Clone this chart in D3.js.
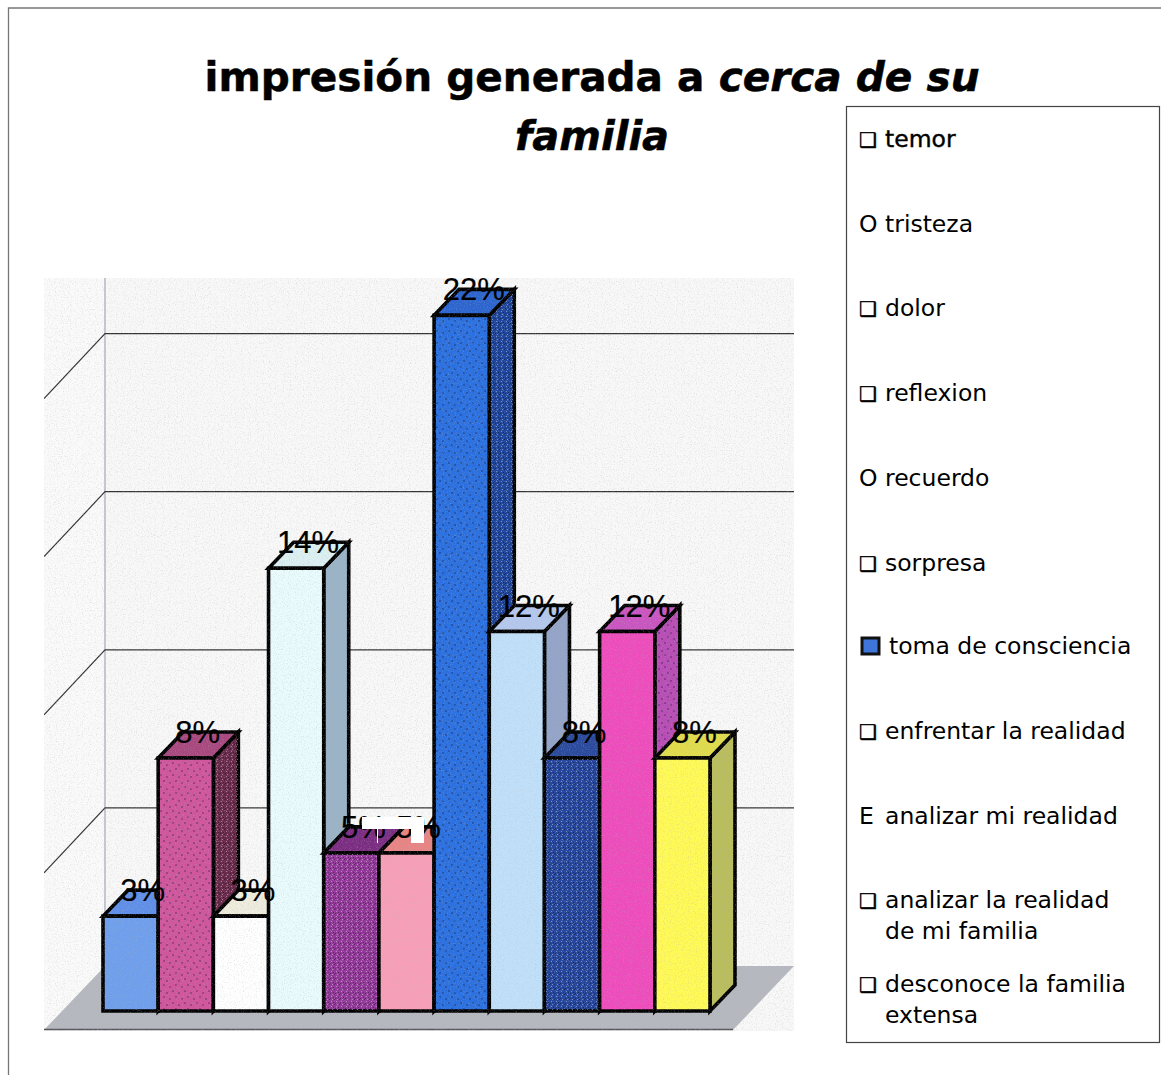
<!DOCTYPE html>
<html><head><meta charset="utf-8">
<script src="https://cdnjs.cloudflare.com/ajax/libs/d3/7.8.5/d3.min.js"></script>
<style>html,body{margin:0;padding:0;background:#fff}svg{display:block}</style>
</head><body><div id="c"></div>
<script>
const categories = ["temor","tristeza","dolor","reflexion","recuerdo","sorpresa","toma de consciencia","enfrentar la realidad","analizar mi realidad","analizar la realidad de mi familia","desconoce la familia extensa"];
const values = [3,8,3,14,5,5,22,12,8,12,8];
const gridTicks = [5,10,15,20];
const frontColors = ["#6f9fec","#cf559c","#ffffff","#e9fbfc","#93389a","#f89fb8","#2a70e0","#c0e0fa","#25469f","#ee4cbc","#fffa55"];
const topColors = ["#5f8fe8","#a8487f","#eeeddd","#dcf0f2","#7b2d82","#e88484","#2c64d0","#b4c8ee","#2a4a9e","#c955c0","#e0dc4c"];
const sideColors = ["#4f79bd","#6c2a4c","#cfcfc4","#9ab3c6","#5f2468","#c67d90","#1f469f","#93a4c8","#1c3578","#b84db6","#babd5c"];
const frontPattern = ["","dots","","","speck","","dots","","speck","",""];
const sidePattern = ["","speck","","","speck","","speck","","speck","dots",""];
const legendLines = [
 {mark:"❑",t:["temor"],bold:true},{mark:"O",t:["tristeza"]},{mark:"❑",t:["dolor"]},{mark:"❑",t:["reflexion"]},
 {mark:"O",t:["recuerdo"]},{mark:"❑",t:["sorpresa"]},{mark:"box",t:["toma de consciencia"]},{mark:"❑",t:["enfrentar la realidad"]},
 {mark:"E",t:["analizar mi realidad"]},{mark:"❑",t:["analizar la realidad","de mi familia"]},{mark:"❑",t:["desconoce la familia","extensa"]}];
const legendBaselines = [147,232,316,401,486,571,654,739,824,908,992];

const W=1161,H=1075;
const svg=d3.select("#c").append("svg").attr("width",W).attr("height",H).attr("viewBox",[0,0,W,H]);
const defs=svg.append("defs");
defs.append("clipPath").attr("id","plot").append("rect").attr("x",44).attr("y",278).attr("width",750).attr("height",753);
const dots=defs.append("pattern").attr("id","dots").attr("width",12).attr("height",12).attr("patternUnits","userSpaceOnUse");
[[2,3],[8,1],[5,7],[11,9]].forEach(p=>dots.append("circle").attr("cx",p[0]).attr("cy",p[1]).attr("r",.8).attr("fill","#1a1030").attr("opacity",.65));
const speck=defs.append("pattern").attr("id","speck").attr("width",5).attr("height",5).attr("patternUnits","userSpaceOnUse");
[[1,1,"#fff"],[3,2,"#000"],[2,4,"#fff"],[4,4,"#000"],[0,3,"#000"]].forEach(p=>speck.append("rect").attr("x",p[0]).attr("y",p[1]).attr("width",1).attr("height",1).attr("fill",p[2]).attr("opacity",.38));
const nf=defs.append("filter").attr("id","noise").attr("x",0).attr("y",0).attr("width","100%").attr("height","100%");
nf.append("feTurbulence").attr("type","fractalNoise").attr("baseFrequency",.85).attr("numOctaves",2).attr("seed",4);
nf.append("feColorMatrix").attr("values","0 0 0 0 0.45  0 0 0 0 0.45  0 0 0 0 0.47  2.6 0 0 0 -1.3");

// page frame
svg.append("path").attr("d",`M8.5,${H}V8H${W}`).attr("fill","none").attr("stroke","#777").attr("stroke-width",1.3);

// title
const title=svg.append("g").attr("font-family","'DejaVu Sans'").attr("font-weight","bold").attr("font-size",40.6).attr("fill","#000").attr("stroke","#000").attr("stroke-width",.5).attr("text-anchor","middle");
const t1=title.append("text").attr("x",592).attr("y",90.5);
t1.append("tspan").text("impresión generada a ");
t1.append("tspan").attr("font-style","italic").text("cerca de su");
title.append("text").attr("x",592).attr("y",149.5).attr("font-size",40).attr("font-style","italic").text("familia");

// scales
const x=d3.scaleBand().domain(categories).range([103,710]).padding(0);
const y=d3.scaleLinear().domain([0,25]).range([1011,1011-790.5]);
const dx=25,dy=26, backX=105, backDrop=45;
const backY=v=>y(v)-backDrop;

const plot=svg.append("g").attr("clip-path","url(#plot)");
plot.append("rect").attr("x",44).attr("y",278).attr("width",750).attr("height",753).attr("fill","#f8f8f8");
// left wall
plot.append("path").attr("d",`M44,278H${backX}V${backY(0)}L44,1030Z`).attr("fill","#fafafa");
plot.append("line").attr("x1",backX).attr("x2",backX).attr("y1",278).attr("y2",backY(0)).attr("stroke","#c6c7d3").attr("stroke-width",2);
// floor
plot.append("path").attr("d",`M44,1030H733L794,${backY(0)}H${backX}Z`).attr("fill","#b6b8bf");
plot.append("line").attr("x1",44).attr("x2",733).attr("y1",1029.5).attr("y2",1029.5).attr("stroke","#55565c").attr("stroke-width",1.5);
// grid
const grid=plot.append("g").attr("stroke","#333").attr("stroke-width",1.2).attr("fill","none");
grid.selectAll("path").data(gridTicks).join("path").attr("d",v=>`M44,${backY(v)+65}L${backX},${backY(v)}H794`);

// bars
const bw=x.bandwidth();
const bars=plot.append("g").attr("stroke","#000").attr("stroke-width",3.6).attr("stroke-linejoin","miter");
const g=bars.selectAll("g").data(categories.map((c,i)=>({c,i,v:values[i]}))).join("g");
const fr=d=>`M${x(d.c)},${y(0)}V${y(d.v)}H${x(d.c)+bw}V${y(0)}Z`;
const tp=d=>`M${x(d.c)},${y(d.v)}l${dx},${-dy}h${bw}l${-dx},${dy}Z`;
const sd=d=>`M${x(d.c)+bw},${y(0)}V${y(d.v)}l${dx},${-dy}V${y(0)-dy}Z`;
g.append("path").attr("d",sd).attr("fill",d=>sideColors[d.i]);
g.filter(d=>sidePattern[d.i]).append("path").attr("d",sd).attr("stroke","none").attr("fill",d=>`url(#${sidePattern[d.i]})`);
g.append("path").attr("d",tp).attr("fill",d=>topColors[d.i]);
g.append("path").attr("d",fr).attr("fill",d=>frontColors[d.i]);
g.filter(d=>frontPattern[d.i]).append("path").attr("d",fr).attr("stroke","none").attr("fill",d=>`url(#${frontPattern[d.i]})`);

// scan grain
plot.append("rect").attr("x",44).attr("y",278).attr("width",750).attr("height",753).attr("filter","url(#noise)").attr("opacity",.35);

// value labels
plot.append("g").attr("font-family","'Liberation Sans'").attr("font-size",31).attr("fill","#000").attr("stroke","#000").attr("stroke-width",.2).attr("text-anchor","middle")
 .selectAll("text").data(categories.map((c,i)=>({c,i,v:values[i]}))).join("text")
 .attr("x",d=>x(d.c)+bw/2+12).attr("y",d=>y(d.v)-15).text(d=>d.v+"%");

// scan artefact: white patches over the 5% labels
const patch=svg.append("g").attr("fill","#fff");
patch.append("rect").attr("x",362).attr("y",817).attr("width",62).attr("height",12);
patch.append("rect").attr("x",411).attr("y",829).attr("width",13).attr("height",14);
patch.append("rect").attr("x",377).attr("y",829).attr("width",1).attr("height",14);

// legend
svg.append("rect").attr("x",846.5).attr("y",106.5).attr("width",313).attr("height",936).attr("fill","#fff").attr("stroke","#444").attr("stroke-width",1.2);
const lg=svg.append("g").attr("font-family","'DejaVu Sans'").attr("font-size",23.5).attr("fill","#000");
legendLines.forEach((l,i)=>{
  const b=legendBaselines[i];
  const isBox=l.mark==="box";
  if(isBox){
    lg.append("rect").attr("x",862).attr("y",b-16).attr("width",17).attr("height",16).attr("fill","#3f74d8").attr("stroke","#111").attr("stroke-width",3);
  } else if(l.mark==="❑"){
    lg.append("text").attr("x",859).attr("y",b).attr("font-size",20).attr("stroke","#000").attr("stroke-width",.5).text(l.mark);
  } else {
    lg.append("text").attr("x",859).attr("y",b).text(l.mark);
  }
  l.t.forEach((s,j)=>{
    lg.append("text").attr("x",isBox?889:885).attr("y",b+j*31).attr("stroke",l.bold?"#000":null).attr("stroke-width",l.bold?.4:null).text(s);
  });
});
</script></body></html>
